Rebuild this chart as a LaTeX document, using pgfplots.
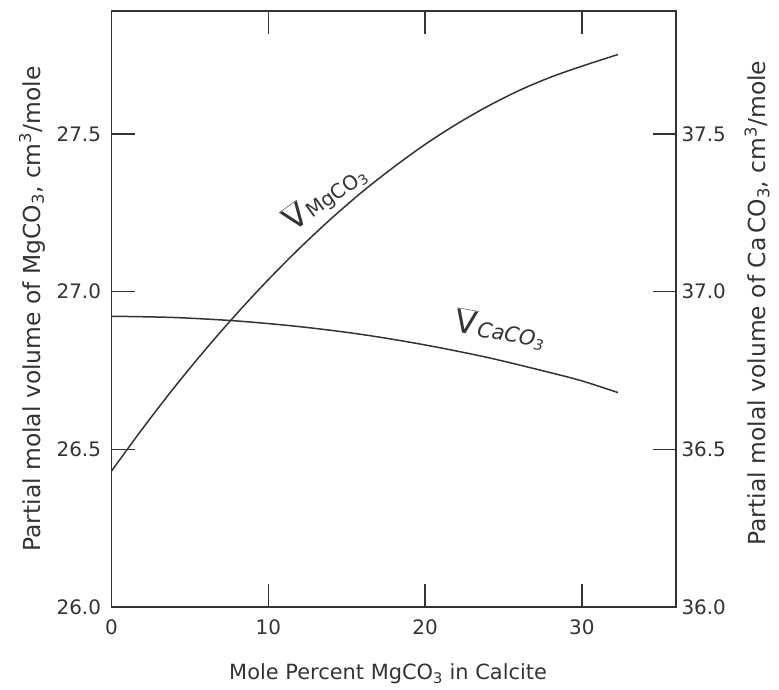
\documentclass[border=0pt]{standalone}
\usepackage{fontspec}
\setmainfont{DejaVu Sans}
\usepackage{pgfplots}
\pgfplotsset{compat=1.18}
\definecolor{ink}{HTML}{333333}
\newcommand{\tickfont}{\fontsize{20}{20}\selectfont}
\newcommand{\xlabfont}{\fontsize{21}{21}\selectfont}
\newcommand{\ylabfont}{\fontsize{23.5}{24}\selectfont}
\begin{document}
\begin{tikzpicture}[x=1bp,y=1bp]
\path[use as bounding box] (-111.5,-83) rectangle (667.5,607);
\begin{axis}[
  at={(0,0)}, anchor=south west,
  width=564.5bp, height=596bp, scale only axis,
  xmin=0, xmax=36, ymin=26, ymax=27.89,
  axis line style={ink, line width=1.5bp},
  every tick/.style={ink, line width=1.4bp},
  tick align=inside, major tick length=23bp,
  xtick={0,10,20,30}, xtick pos=both,
  ytick={26,26.5,27,27.5}, ytick pos=left,
  yticklabel style={/pgf/number format/fixed, /pgf/number format/fixed zerofill, /pgf/number format/precision=1},
  /pgf/number format/assume math mode=true,
  ticklabel style={font=\tickfont, text=ink},
  xticklabel style={yshift=-9bp},
  yticklabel style={xshift=-7bp},
  xlabel={Mole Percent MgCO\textsubscript{3} in Calcite},
  xlabel style={font=\xlabfont, text=ink, at={(axis description cs:0.49,-0.112)}, anchor=center},
  ylabel={Partial molal volume of MgCO\textsubscript{3}, cm\textsuperscript{3}/mole},
  ylabel style={font=\ylabfont, text=ink, at={(axis description cs:-0.141,0.5)}, anchor=center},
  clip=false,
]
\addplot[ink, line width=1.5bp, smooth] coordinates {
(0,26.431) (2,26.567) (4,26.696) (6,26.817) (8,26.931) (10,27.038) (12,27.138)
(14,27.231) (16,27.317) (18,27.395) (20,27.467) (22,27.531) (24,27.588)
(26,27.638) (28,27.680) (30,27.715) (32.3,27.752)};
\addplot[ink, line width=1.5bp, smooth] coordinates {
(0,26.922) (4,26.918) (8,26.907) (12,26.889) (16,26.864) (20,26.831)
(24,26.791) (28,26.743) (30,26.717) (32.3,26.680)};
\node[ink, rotate=36, inner sep=0] at (axis cs:13.6,27.30)
  {{\fontsize{32}{32}\selectfont$\overline{\mbox{V}}$}\,{\fontsize{20}{20}\selectfont MgCO\textsubscript{3}}};
\node[ink, rotate=-10, inner sep=0] at (axis cs:24.8,26.88)
  {{\fontsize{32}{32}\selectfont$\overline{\mbox{V}}$}\,{\fontsize{21}{21}\selectfont\itshape CaCO\textsubscript{3}}};
\end{axis}
\begin{axis}[
  at={(0,0)}, anchor=south west,
  width=564.5bp, height=596bp, scale only axis,
  xmin=0, xmax=36, ymin=36, ymax=37.89,
  axis x line=none, axis y line*=right,
  axis line style={ink, line width=1.5bp},
  every tick/.style={ink, line width=1.4bp},
  tick align=inside, major tick length=23bp,
  ytick={36,36.5,37,37.5}, yticklabel pos=right,
  yticklabel style={/pgf/number format/fixed, /pgf/number format/fixed zerofill, /pgf/number format/precision=1, xshift=2bp},
  /pgf/number format/assume math mode=true,
  ticklabel style={font=\tickfont, text=ink},
  ylabel={Partial molal volume of Ca\,CO\textsubscript{3}, cm\textsuperscript{3}/mole},
  ylabel style={font=\ylabfont, text=ink, at={(axis description cs:1.1435,0.51)}, anchor=center, rotate=0},
]
\end{axis}
\end{tikzpicture}
\end{document}
